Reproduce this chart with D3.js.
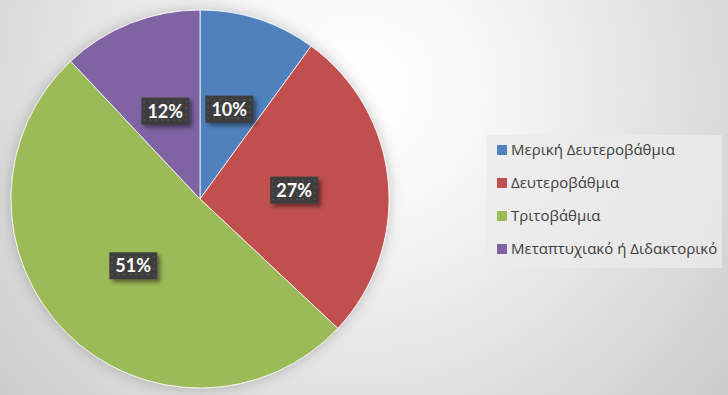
<!DOCTYPE html>
<html>
<head>
<meta charset="utf-8">
<script src="https://cdn.jsdelivr.net/npm/d3@7"></script>
<style>
  html, body { margin: 0; padding: 0; }
  body { width: 728px; height: 395px; overflow: hidden; }
</style>
</head>
<body>
<div id="chart"></div>
<script>
// data
const categories = ["Μερική Δευτεροβάθμια", "Δευτεροβάθμια", "Τριτοβάθμια", "Μεταπτυχιακό ή Διδακτορικό"];
const shares = [10, 27, 51, 12];
const colors = ["#4f81bd", "#c0504d", "#9bbb59", "#8064a2"];

const width = 728, height = 395;
const cx = 200, cy = 199, radius = 189;

const svg = d3.select("#chart").append("svg")
    .attr("width", width)
    .attr("height", height);

const defs = svg.append("defs");

// background gradient
const bg = defs.append("radialGradient")
    .attr("id", "bg")
    .attr("gradientUnits", "userSpaceOnUse")
    .attr("cx", 360).attr("cy", 90).attr("r", 520);
bg.append("stop").attr("offset", "0").attr("stop-color", "#ffffff");
bg.append("stop").attr("offset", "0.25").attr("stop-color", "#f7f7f7");
bg.append("stop").attr("offset", "0.7").attr("stop-color", "#dadada");
bg.append("stop").attr("offset", "1").attr("stop-color", "#c6c6c6");

const pieShadow = defs.append("filter").attr("id", "pieShadow")
    .attr("x", "-20%").attr("y", "-20%").attr("width", "140%").attr("height", "140%");
pieShadow.append("feGaussianBlur").attr("in", "SourceAlpha").attr("stdDeviation", 7).attr("result", "b");
pieShadow.append("feFlood").attr("flood-color", "#000").attr("flood-opacity", 0.22);
pieShadow.append("feComposite").attr("in2", "b").attr("operator", "in").attr("result", "s");
const pm = pieShadow.append("feMerge");
pm.append("feMergeNode").attr("in", "s");
pm.append("feMergeNode").attr("in", "SourceGraphic");

const boxShadow = defs.append("filter").attr("id", "boxShadow")
    .attr("x", "-30%").attr("y", "-30%").attr("width", "170%").attr("height", "180%");
boxShadow.append("feGaussianBlur").attr("in", "SourceAlpha").attr("stdDeviation", 2).attr("result", "b");
boxShadow.append("feOffset").attr("in", "b").attr("dx", 3).attr("dy", 3).attr("result", "o");
boxShadow.append("feFlood").attr("flood-color", "#000").attr("flood-opacity", 0.45);
boxShadow.append("feComposite").attr("in2", "o").attr("operator", "in").attr("result", "s");
const bm = boxShadow.append("feMerge");
bm.append("feMergeNode").attr("in", "s");
bm.append("feMergeNode").attr("in", "SourceGraphic");

// dotted label texture
const dots = defs.append("pattern").attr("id", "dots")
    .attr("patternUnits", "userSpaceOnUse").attr("width", 6).attr("height", 6);
dots.append("rect").attr("width", 6).attr("height", 6).attr("fill", "#3c3c3c");
dots.append("circle").attr("cx", 3).attr("cy", 3).attr("r", 0.9).attr("fill", "#5a5a5a");

svg.append("rect").attr("width", width).attr("height", height).attr("fill", "url(#bg)");

// pie
const pie = d3.pie().sort(null).value(d => d)(shares);
const arc = d3.arc().innerRadius(0).outerRadius(radius);
const labelArc = d3.arc().innerRadius(radius * 0.5).outerRadius(radius * 0.5);

const g = svg.append("g").attr("transform", `translate(${cx},${cy})`);
g.append("g").attr("filter", "url(#pieShadow)")
  .selectAll("path")
  .data(pie)
  .join("path")
    .attr("d", arc)
    .attr("fill", (d, i) => colors[i])
    .attr("stroke", "#ffffff")
    .attr("stroke-width", 0.8);

// data labels
const total = d3.sum(shares);
const lbl = g.selectAll("g.lbl")
  .data(pie)
  .join("g")
    .attr("class", "lbl")
    .attr("transform", d => {
      const [x, y] = labelArc.centroid(d);
      return `translate(${x},${y})`;
    });

lbl.append("text")
    .attr("text-anchor", "middle")
    .attr("dy", "0.36em")
    .attr("font-family", "Lato, 'Open Sans', sans-serif")
    .attr("font-weight", "bold")
    .attr("font-size", 18)
    .attr("fill", "#ffffff")
    .text(d => Math.round(d.value / total * 100) + "%");

lbl.each(function() {
  const t = d3.select(this).select("text");
  const bb = t.node().getBBox();
  d3.select(this).insert("rect", "text")
    .attr("x", bb.x - 6)
    .attr("y", -13.5)
    .attr("width", bb.width + 12)
    .attr("height", 27)
    .attr("fill", "url(#dots)")
    .attr("filter", "url(#boxShadow)");
});

// legend
const legend = svg.append("g").attr("transform", "translate(486,135)");
legend.append("rect")
    .attr("width", 236).attr("height", 133)
    .attr("fill", "#ebebeb").attr("fill-opacity", 0.75);

const ly = d3.scalePoint().domain(categories).range([15, 114]);
const item = legend.selectAll("g.item")
  .data(categories)
  .join("g")
    .attr("class", "item")
    .attr("transform", d => `translate(11,${ly(d)})`);
item.append("rect")
    .attr("x", 0).attr("y", -5).attr("width", 10).attr("height", 10)
    .attr("fill", (d, i) => colors[i]);
item.append("text")
    .attr("x", 14).attr("dy", "0.35em")
    .attr("font-family", "'Open Sans', sans-serif")
    .attr("font-size", 15)
    .attr("fill", "#404040")
    .text(d => d);
</script>
</body>
</html>
